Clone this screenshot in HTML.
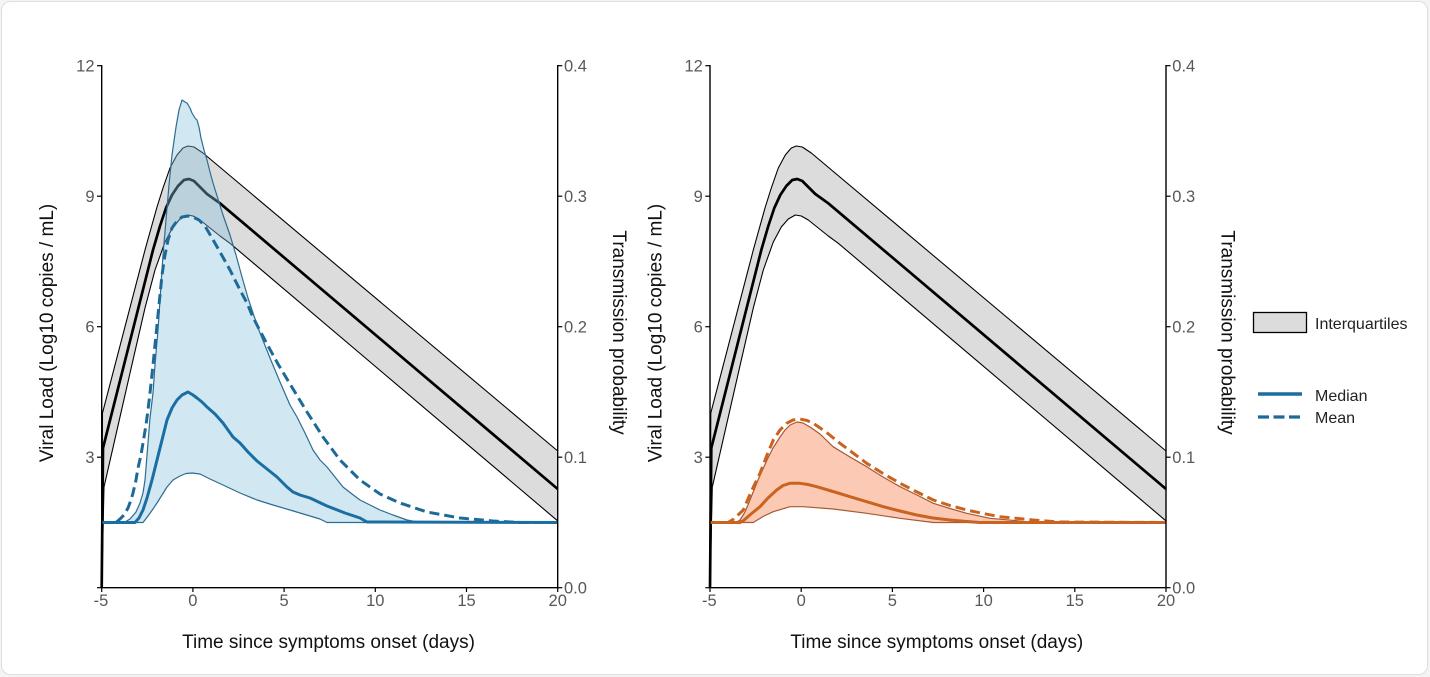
<!DOCTYPE html>
<html>
<head>
<meta charset="utf-8">
<style>
html,body{margin:0;padding:0;background:#f4f4f4;}
svg{display:block;}
text{font-family:"Liberation Sans",Arial,sans-serif;}
.tk{font-size:16.5px;fill:#585858;}
.tt{font-size:19px;fill:#111;}
.lg{font-size:16px;fill:#222;}
</style>
</head>
<body>
<svg width="1430" height="677" viewBox="0 0 1430 677" xmlns="http://www.w3.org/2000/svg">
<rect x="1.5" y="1.5" width="1426" height="673" rx="9" ry="9" fill="#ffffff" stroke="#dedede" stroke-width="1"/>

<defs>
<g id="grayband">
  <polygon fill="#dcdcdc" points="101.7,587.7 102.5,413 145,250 150,232 157,207 163,188 170,168 177,155 183,148 188,146 194,147 200,151 203,153 557.7,451 557.7,520.9 230,243.3 220,236 210,228 200,220 193,216 187,215 180,219 173,227 165,242 155,270 145,308 133,360 104,487 101.7,587.7"/>
  <polyline fill="none" stroke="#000" stroke-width="1.1" stroke-linejoin="round" points="101.7,587.7 102.5,413 145,250 150,232 157,207 163,188 170,168 177,155 183,148 188,146 194,147 200,151 203,153 557.7,451"/>
  <polyline fill="none" stroke="#000" stroke-width="1.1" stroke-linejoin="round" points="101.7,587.7 104,487 133,360 145,308 155,270 165,242 173,227 180,219 187,215 193,216 200,220 210,228 220,236 230,243.3 557.7,520.9"/>
  <polyline fill="none" stroke="#000" stroke-width="2.7" stroke-linejoin="round" points="101.7,587.7 103,448 153,250 160,226 166,208 172,195 178,186 184,180 189,179 194,181 200,187 207,194 214,199 220,203.3 557.7,489"/>
</g>
<g id="axes">
  <line x1="101.7" y1="65" x2="101.7" y2="588.3" stroke="#000" stroke-width="1.4"/>
  <line x1="101" y1="587.7" x2="558.4" y2="587.7" stroke="#000" stroke-width="1.4"/>
  <line x1="557.7" y1="65" x2="557.7" y2="588.3" stroke="#000" stroke-width="1.4"/>
  <g stroke="#000" stroke-width="1.2">
    <line x1="97" y1="65.7" x2="101.7" y2="65.7"/>
    <line x1="97" y1="196.2" x2="101.7" y2="196.2"/>
    <line x1="97" y1="326.7" x2="101.7" y2="326.7"/>
    <line x1="97" y1="457.2" x2="101.7" y2="457.2"/>
    <line x1="97" y1="587.7" x2="101.7" y2="587.7"/>
    <line x1="557.7" y1="65.7" x2="562.3" y2="65.7"/>
    <line x1="557.7" y1="196.2" x2="562.3" y2="196.2"/>
    <line x1="557.7" y1="326.7" x2="562.3" y2="326.7"/>
    <line x1="557.7" y1="457.2" x2="562.3" y2="457.2"/>
    <line x1="557.7" y1="587.7" x2="562.3" y2="587.7"/>
    <line x1="101.7" y1="587.7" x2="101.7" y2="592"/>
    <line x1="192.9" y1="587.7" x2="192.9" y2="592"/>
    <line x1="284.1" y1="587.7" x2="284.1" y2="592"/>
    <line x1="375.3" y1="587.7" x2="375.3" y2="592"/>
    <line x1="466.5" y1="587.7" x2="466.5" y2="592"/>
    <line x1="557.7" y1="587.7" x2="557.7" y2="592"/>
  </g>
  <g class="tk" text-anchor="end">
    <text x="94.5" y="71.7">12</text>
    <text x="94.5" y="202.2">9</text>
    <text x="94.5" y="332.7">6</text>
    <text x="94.5" y="463.2">3</text>
  </g>
  <g class="tk" text-anchor="start">
    <text x="564" y="71.7">0.4</text>
    <text x="564" y="202.2">0.3</text>
    <text x="564" y="332.7">0.2</text>
    <text x="564" y="463.2">0.1</text>
    <text x="564" y="593.7">0.0</text>
  </g>
  <g class="tk" text-anchor="middle">
    <text x="101" y="606">-5</text>
    <text x="192.9" y="606">0</text>
    <text x="284.1" y="606">5</text>
    <text x="375.3" y="606">10</text>
    <text x="466.5" y="606">15</text>
    <text x="557.7" y="606">20</text>
  </g>
  <text class="tt" text-anchor="middle" x="328.5" y="648">Time since symptoms onset (days)</text>
  <text class="tt" text-anchor="middle" transform="translate(53,333) rotate(-90)">Viral Load (Log10 copies / mL)</text>
  <text class="tt" text-anchor="middle" transform="translate(613,332.5) rotate(90)">Transmission probability</text>
</g>
</defs>

<!-- LEFT PLOT -->
<use href="#grayband"/>
<g>
  <polygon fill="rgba(135,195,222,0.38)" points="101.7,522.5 124,522.5 130,519 136,512 140,503 143,493 145,480 148,443 150,418 153,393 155,365 158,330 160,300 163,255 166,220 169,185 172,155 176,127 179,110 182,100 185,102 187,103 190,108 192,113 195,118 197,120 199,127 201,138 204,150 207,160 210,172 213,183 218,199 223,215 230,235 236,255 242,277 248,298 252,310 254,316 260,333 270,358 280,382 290,405 297,417 305,433 313,450 320,460 327,467 335,477 343,487 352,494 360,500 370,505 380,510 393,515 407,520 420,522.5 557.7,522.5 327,522.5 320,519 310,516 300,513 290,510 273,505 257,500 240,493 223,485 210,479 200,474 192,473 186,473.5 180,476 173,480 167,487 162,495 157,503 153,509 148,516 143,522.5 101.7,522.5"/>
  <polyline fill="none" stroke="#2c6c92" stroke-width="1.2" stroke-linejoin="round" points="101.7,522.5 124,522.5 130,519 136,512 140,503 143,493 145,480 148,443 150,418 153,393 155,365 158,330 160,300 163,255 166,220 169,185 172,155 176,127 179,110 182,100 185,102 187,103 190,108 192,113 195,118 197,120 199,127 201,138 204,150 207,160 210,172 213,183 218,199 223,215 230,235 236,255 242,277 248,298 252,310 254,316 260,333 270,358 280,382 290,405 297,417 305,433 313,450 320,460 327,467 335,477 343,487 352,494 360,500 370,505 380,510 393,515 407,520 420,522.5 557.7,522.5"/>
  <polyline fill="none" stroke="#2c6c92" stroke-width="1.2" stroke-linejoin="round" points="101.7,522.5 143,522.5 148,516 153,509 157,503 162,495 167,487 173,480 180,476 186,473.5 192,473 200,474 210,479 223,485 240,493 257,500 273,505 290,510 300,513 310,516 320,519 327,522.5 557.7,522.5"/>
  <polyline fill="none" stroke="#1d6a98" stroke-width="3" stroke-linejoin="round" stroke-dasharray="10,5" points="101.7,522.5 116,522.5 120,519 124,515 128,508 131,500 133,493 136,480 138,468 141,455 143,443 146,425 148,410 150,393 153,365 156,335 159,305 162,275 165,255 168,240 172,228 177,221 182,217 188,216 193,217 199,220 205,226 212,238 220,252 230,270 240,290 247,303 252,315 257,325 267,344 278,364 290,384 307,412 323,437 340,460 360,480 380,494 400,503 427,512 460,518 493,521 520,522.5 557.7,522.5"/>
  <polyline fill="none" stroke="#1b6ea3" stroke-width="3" stroke-linejoin="round" points="101.7,522.5 135,522.5 139,518 143,510 147,498 152,480 157,460 162,440 167,420 172,408 177,400 182,395 188,392 193,395 197,398 202,402 207,407 215,414 223,423 228,430 233,437 240,443 248,452 257,461 267,469 277,477 287,487 293,492 300,495 310,498 327,506 345,513 360,518 367,522 557.7,522.5"/>
</g>
<use href="#axes"/>

<!-- RIGHT PLOT -->
<g transform="translate(608.3,0)">
  <use href="#grayband"/>
</g>
<g>
  <polygon fill="rgba(250,150,105,0.5)" points="710,522.5 736,522.5 740,520 745,512 750,500 758,480 767,460 773,448 780,437 785,430 790,425 797,422 803,423 810,427 820,434 833,446.7 850,457 866.7,466.7 883,477 900,486.7 917,495 933.3,503.3 950,508.5 966.7,513.3 990,518.3 1016.7,520.7 1030,522.5 1166,522.5 933.3,522.5 900,518.3 866.7,513.3 833.3,509 803.3,506.7 790,506.7 773.3,511.7 763,516.5 753.3,522.5 710,522.5"/>
  <polyline fill="none" stroke="#a55a33" stroke-width="1.2" stroke-linejoin="round" points="710,522.5 736,522.5 740,520 745,512 750,500 758,480 767,460 773,448 780,437 785,430 790,425 797,422 803,423 810,427 820,434 833,446.7 850,457 866.7,466.7 883,477 900,486.7 917,495 933.3,503.3 950,508.5 966.7,513.3 990,518.3 1016.7,520.7 1030,522.5 1166,522.5"/>
  <polyline fill="none" stroke="#a55a33" stroke-width="1.2" stroke-linejoin="round" points="710,522.5 753.3,522.5 763,516.5 773.3,511.7 790,506.7 803.3,506.7 833.3,509 866.7,513.3 900,518.3 933.3,522.5 1166,522.5"/>
  <polyline fill="none" stroke="#c9631f" stroke-width="3" stroke-linejoin="round" stroke-dasharray="10,5" points="710,522.5 728,522.5 733.3,519.3 738,515 743.3,510 751,492 760,473.3 767,455 773.3,440 780,430 786.7,423.3 793,420 800,419 807,420.5 813.3,423.3 826,432 840,443.3 853,453 866.7,463.3 883,473.5 900,483.3 917,492 933.3,500 950,505.5 966.7,510 983,513.5 1000,516.7 1033.3,520 1060,522 1166,522.5"/>
  <polyline fill="none" stroke="#c9631f" stroke-width="3" stroke-linejoin="round" points="710,522.5 740,522.5 743.3,520.7 751,514 760,506.7 768,498 776.7,490 783,485.5 790,483.3 800,483.3 808,484.5 816.7,486.7 833,491.5 850,496.7 866.7,501.7 883.3,506.7 900,511 916.7,515 933,518 950,520 966.7,521.5 980,522.5 1166,522.5"/>
</g>
<g transform="translate(608.3,0)">
  <use href="#axes"/>
</g>

<!-- LEGEND -->
<rect x="1253.5" y="312.5" width="53" height="20" fill="#dcdcdc" stroke="#000" stroke-width="1.3"/>
<text class="lg" x="1315" y="329">Interquartiles</text>
<line x1="1258" y1="394" x2="1302" y2="394" stroke="#1b6ea3" stroke-width="3.5"/>
<text class="lg" x="1315" y="401">Median</text>
<line x1="1258" y1="417" x2="1302" y2="417" stroke="#1d6a98" stroke-width="3.2" stroke-dasharray="11,4.5"/>
<text class="lg" x="1315" y="423">Mean</text>
</svg>
</body>
</html>
